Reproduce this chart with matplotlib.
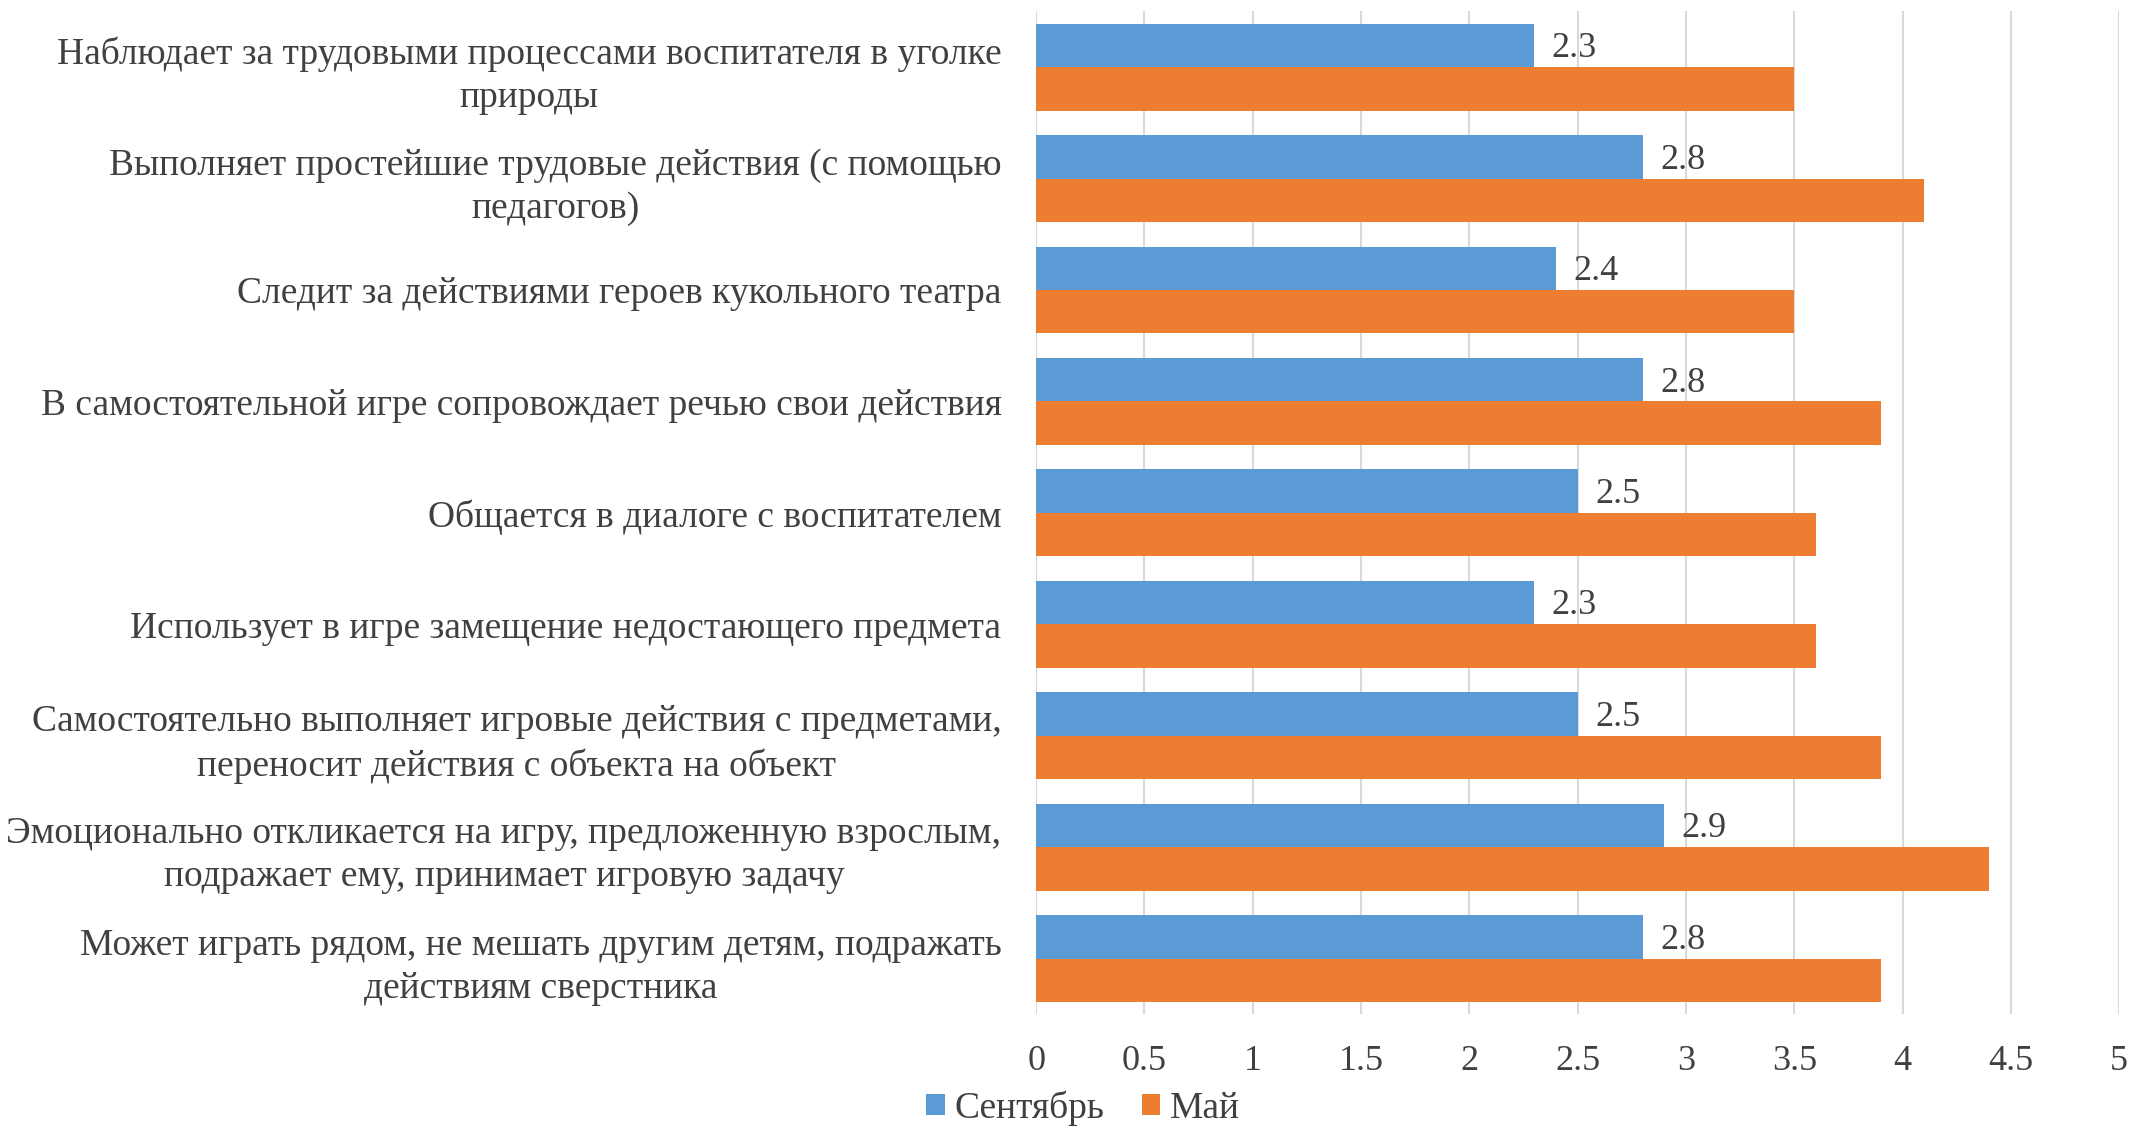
import matplotlib.pyplot as plt
import numpy as np

# Category labels, top to bottom as in the chart
categories = [
    "Наблюдает за трудовыми процессами воспитателя в уголке\nприроды",
    "Выполняет простейшие трудовые действия (с помощью\nпедагогов)",
    "Следит за действиями героев кукольного театра",
    "В самостоятельной игре сопровождает речью свои действия",
    "Общается в диалоге с воспитателем",
    "Использует в игре замещение недостающего предмета",
    "Самостоятельно выполняет игровые действия с предметами,\nпереносит действия с объекта на объект",
    "Эмоционально откликается на игру, предложенную взрослым,\nподражает ему, принимает игровую задачу",
    "Может играть рядом, не мешать другим детям, подражать\nдействиям сверстника",
]
september = [2.3, 2.8, 2.4, 2.8, 2.5, 2.3, 2.5, 2.9, 2.8]
may = [3.5, 4.1, 3.5, 3.9, 3.6, 3.6, 3.9, 4.4, 3.9]
x_ticks = [0, 0.5, 1, 1.5, 2, 2.5, 3, 3.5, 4, 4.5, 5]

BLUE = "#5B9BD5"
ORANGE = "#ED7D31"
TEXT = "#404040"

plt.rcParams["font.family"] = ["Liberation Serif", "DejaVu Serif"]

fig = plt.figure(figsize=(21.32, 11.41), dpi=100)
ax = fig.add_axes([0.486, 0.111, 0.508, 0.879])

y = np.arange(len(categories))
h = 0.39
ax.barh(y - h / 2, september, height=h, color=BLUE, label="Сентябрь", zorder=3)
ax.barh(y + h / 2, may, height=h, color=ORANGE, label="Май", zorder=3)

# data labels only for the September series
for yi, v in zip(y, september):
    ax.text(v + 0.08, yi - h / 2 + 0.03, f"{v}", va="center", ha="left",
            fontsize=26, color=TEXT, zorder=4)

ax.set_xlim(0, 5)
ax.set_ylim(len(categories) - 0.5, -0.5)
ax.set_xticks(x_ticks)
ax.set_xticklabels([f"{t:g}" for t in x_ticks])
ax.set_yticks(y)
ax.set_yticklabels(categories, multialignment="center", linespacing=1.33)
ax.tick_params(axis="x", length=0, pad=22, labelsize=26, labelcolor=TEXT)
ax.tick_params(axis="y", length=0, pad=25, labelsize=27, labelcolor=TEXT)
ax.grid(axis="x", color="#D9D9D9", linewidth=1.5, zorder=0)
for s in ax.spines.values():
    s.set_visible(False)

fig.legend(loc="lower center", bbox_to_anchor=(0.508, -0.016), ncol=2,
           frameon=False, fontsize=27, labelcolor=TEXT,
           handlelength=0.5, handleheight=0.5, handletextpad=0.25,
           columnspacing=1.0)

fig.savefig("out.png", dpi=100)
